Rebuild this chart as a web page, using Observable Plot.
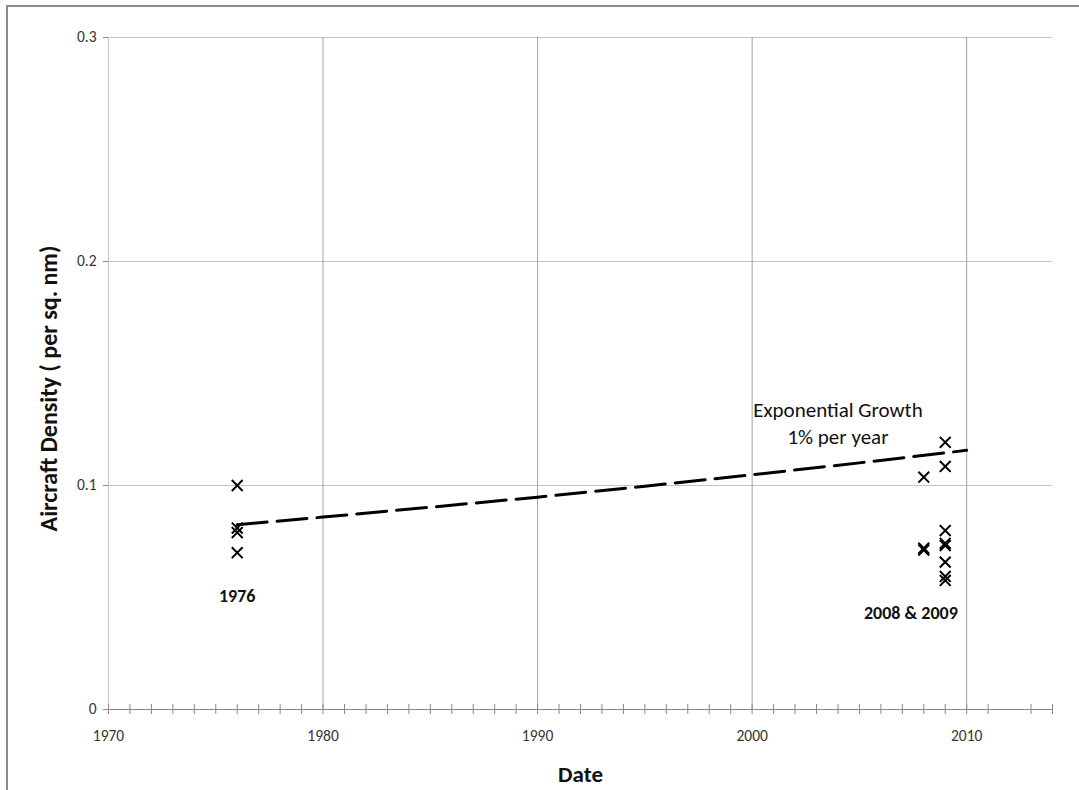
<!DOCTYPE html>
<html>
<head>
<meta charset="utf-8">
<script src="https://cdn.jsdelivr.net/npm/d3@7"></script>
<script src="https://cdn.jsdelivr.net/npm/@observablehq/plot@0.6"></script>
<style>
  html, body { margin: 0; padding: 0; background: #fff; overflow: hidden; }
  #frame { position: absolute; left: 6px; top: 5px; width: 1100px; height: 820px; border: 2px solid #8c8c8c; box-sizing: border-box; }
  #chart { position: absolute; left: 0; top: 0; }
</style>
</head>
<body>
<div id="frame"></div>
<div id="chart"></div>
<script>
// Observations (year, aircraft density per sq. nm)
const obsYear    = [1976, 1976, 1976, 1976, 2008, 2008, 2008, 2009, 2009, 2009, 2009, 2009, 2009, 2009, 2009];
const obsDensity = [0.100, 0.081, 0.079, 0.070, 0.1037, 0.0720, 0.0712, 0.1193, 0.1085, 0.0799, 0.0742, 0.0732, 0.0658, 0.0594, 0.0576];

// Dashed trend ("Exponential Growth 1% per year")
const trendYear    = [1976, 1980, 1985, 1990, 1995, 2000, 2005, 2010];
const trendDensity = [0.0825, 0.0859, 0.0903, 0.0948, 0.0997, 0.1048, 0.1101, 0.1157];

// Axis ticks
const yTicks = [0, 0.1, 0.2, 0.3];
const yTickLabels = ["0", "0.1", "0.2", "0.3"];
const xTicks = [1970, 1980, 1990, 2000, 2010];
const xTickLabels = ["1970", "1980", "1990", "2000", "2010"];
const xMinorTicks = [1970,1971,1972,1973,1974,1975,1976,1977,1978,1979,1980,1981,1982,1983,1984,1985,1986,1987,1988,1989,1990,1991,1992,1993,1994,1995,1996,1997,1998,1999,2000,2001,2002,2003,2004,2005,2006,2007,2008,2009,2010,2011,2013,2014];
const xGrid = [1980, 1990, 2000, 2010];
const yGrid = [0.1, 0.2, 0.3];

// Annotations
const noteText = ["Exponential Growth", "1% per year"];
const noteX = [2004.0, 2004.0];
const noteY = [0.1335, 0.1214];
const groupText = ["1976", "2008 & 2009"];
const groupX = [1976, 2007.4];
const groupY = [0.0505, 0.0429];

const xTitle = "Date";
const yTitle = "Aircraft Density ( per sq. nm)";

const font = "Carlito, 'Open Sans', 'Noto Sans', sans-serif";

const obs = obsYear.map((x, i) => ({x, y: obsDensity[i]}));
const trend = trendYear.map((x, i) => ({x, y: trendDensity[i]}));
const notes = noteText.map((t, i) => ({t, x: noteX[i], y: noteY[i]}));
const groups = groupText.map((t, i) => ({t, x: groupX[i], y: groupY[i]}));
const xLab = xTicks.map((v, i) => ({v, t: xTickLabels[i]}));
const yLab = yTicks.map((v, i) => ({v, t: yTickLabels[i]}));

const chart = Plot.plot({
  width: 1079,
  height: 790,
  marginLeft: 108,
  marginRight: 27,
  marginTop: 37,
  marginBottom: 81,
  style: {fontFamily: font, fontSize: "15px", background: "transparent"},
  x: {domain: [1970, 2014], axis: null},
  y: {domain: [0, 0.3], axis: null},
  marks: [
    Plot.ruleY(yGrid, {stroke: "#c3c3c3", strokeWidth: 1}),
    Plot.ruleX(xGrid, {stroke: "#a3a3a3", strokeWidth: 1}),
    Plot.ruleX([1970], {stroke: "#c3c3c3", strokeWidth: 1}),
    Plot.ruleY([0], {stroke: "#8a8a8a", strokeWidth: 1}),
    Plot.ruleX(xMinorTicks, {y1: 0, y2: 0, insetTop: -5, insetBottom: -5, stroke: "#8a8a8a", strokeWidth: 1}),
    Plot.ruleY(yTicks, {x1: 1970, x2: 1970, insetLeft: -5, stroke: "#8a8a8a", strokeWidth: 1}),
    Plot.text(xLab, {x: "v", text: "t", frameAnchor: "bottom", dy: 31, fontSize: 15.5, fill: "#333"}),
    Plot.text(yLab, {y: "v", text: "t", frameAnchor: "left", textAnchor: "end", dx: -12, fontSize: 15.5, fill: "#333"}),
    Plot.line(trend, {x: "x", y: "y", stroke: "black", strokeWidth: 3, strokeDasharray: "30,10"}),
    Plot.dot(obs, {x: "x", y: "y", symbol: "times", r: 5, stroke: "black", strokeWidth: 2}),
    Plot.text(notes, {x: "x", y: "y", text: "t", fontSize: 21, fill: "#111"}),
    Plot.text(groups, {x: "x", y: "y", text: "t", fontSize: 18, fontWeight: "bold", fill: "#111"}),
    Plot.text([xTitle], {frameAnchor: "bottom", dy: 72, fontSize: 23, fontWeight: "bold", fill: "#111"}),
    Plot.text([yTitle], {frameAnchor: "left", textAnchor: "middle", dx: -59, dy: 15, rotate: -90, fontSize: 24, fontWeight: "bold", fill: "#111"})
  ]
});
document.getElementById("chart").appendChild(chart);
</script>
</body>
</html>
